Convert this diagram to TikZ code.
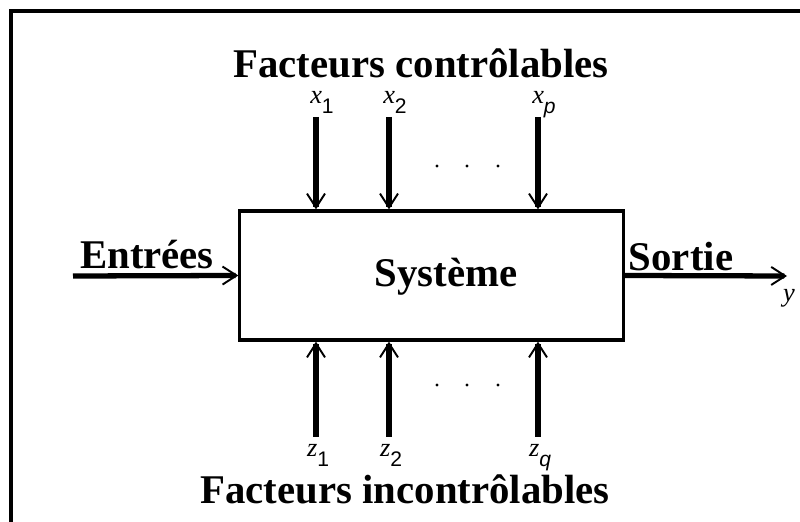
\documentclass[tikz,border=0pt]{standalone}
\usepackage{fontspec}
\setmainfont{Liberation Serif}
\setsansfont{Liberation Sans}
\usetikzlibrary{arrows.meta,positioning}

\newcommand{\facvar}[2]{\textit{#1}\raisebox{-0.8ex}{\fontsize{6}{7}\selectfont\sffamily #2}}

\begin{document}
\begin{tikzpicture}[x=0.01cm, y=-0.01cm,
    systeme/.style={rectangle, draw, line width=0.9pt, minimum width=3.83cm, minimum height=1.29cm},
    titre/.style={font=\fontsize{11.6}{14}\selectfont\bfseries, inner sep=0pt},
    var/.style={font=\fontsize{7.5}{9}\selectfont, inner sep=0pt, anchor=base},
    fleche/.style={line width=1.5pt, -{Straight Barb[length=1.4mm, width=1.8mm, line width=0.55pt]}}
]
    \useasboundingbox (0,0) rectangle (800,522);

    % Cadre
    \draw[line width=1pt] (11,522) -- (11,11) -- (800,11);

    % Systeme
    \node[systeme] (sys) at (431.5,275.5) {};
    \node[titre] (systxt) at (446,277) {Système};

    % Facteurs controlables
    \node[titre] (ctrl) at (421,63) {Facteurs contrôlables};
    \foreach \n/\x/\v in {1/316/1, 2/389/2, p/538/\textit{p}} {
        \coordinate (h\n) at (\x,117);
        \draw[fleche] (h\n) -- (h\n |- sys.north);
        \node[var] (x\n) at (\x+6,104) {\facvar{x}{\v}};
    }
    \foreach \x in {437,467,498}
        \fill (\x,166) circle (0.45pt);

    % Facteurs incontrolables
    \foreach \n/\x/\v in {1/316/1, 2/389/2, q/538/\textit{q}} {
        \coordinate (b\n) at (\x,437);
        \draw[fleche] (b\n) -- (b\n |- sys.south);
        \node[var] (z\n) at (\x+2,457) {\facvar{z}{\v}};
    }
    \foreach \x in {437,467,498}
        \fill (\x,385) circle (0.45pt);
    \node[titre] (inctrl) at (405,489) {Facteurs incontrôlables};

    % Entree / sortie
    \coordinate (in) at (73,276);
    \coordinate (out) at (787,276);
    \draw[fleche] (in) -- (sys.west);
    \draw[fleche] (sys.east) -- (out);
    \node[titre] (entree) at (147,255) {Entrées};
    \node[titre] (sortie) at (681,257) {Sortie};
    \node[var] (y) at (789,302) {\textit{y}};
\end{tikzpicture}
\end{document}
